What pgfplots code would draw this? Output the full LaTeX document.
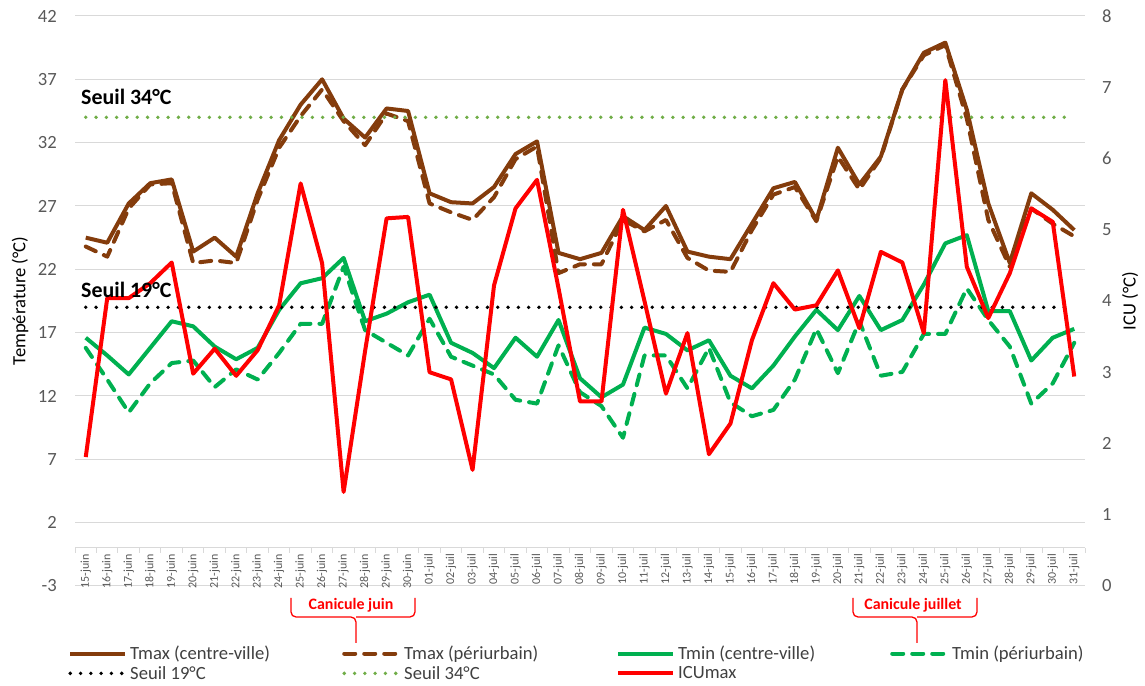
\documentclass[border=0pt]{standalone}
\usepackage{pgfplots}
\usepackage{pgfplotstable}
\pgfplotsset{compat=1.18}
\usepackage{fontspec}
\setmainfont{Carlito}
\definecolor{brn}{HTML}{843C0C}
\definecolor{grn}{HTML}{00B050}
\definecolor{lgrn}{HTML}{70AD47}
\definecolor{icured}{HTML}{FF0000}
\definecolor{gridgray}{HTML}{D9D9D9}
\definecolor{tickgray}{HTML}{595959}
\definecolor{leggray}{HTML}{404040}
\newcommand\fsA{\fontsize{18.7}{22}\selectfont}
\newcommand\fsX{\fontsize{12}{14}\selectfont}

\pgfplotstableread{
i  tmaxc tmaxp tminc tminp icu
0  24.5  23.8  16.6  15.8  1.81
1  24.1  23.0  15.2  13.3  4.04
2  27.2  26.8  13.7  10.7  4.04
3  28.8  28.7  15.8  13.0  4.25
4  29.1  28.8  17.9  14.6  4.54
5  23.4  22.5  17.5  14.8  2.98
6  24.5  22.7  15.9  12.7  3.33
7  23.0  22.5  14.9  14.1  2.95
8  28.0  27.5  15.8  13.3  3.31
9  32.2  31.6  18.8  15.4  3.94
10 35.0  34.1  20.9  17.7  5.65
11 37.0  36.2  21.3  17.7  4.53
12 33.9  33.7  22.9  22.2  1.32
13 32.4  31.8  17.9  17.2  3.30
14 34.7  34.3  18.5  16.2  5.16
15 34.5  33.7  19.4  15.2  5.18
16 28.0  27.2  20.0  18.1  3.00
17 27.3  26.5  16.2  15.1  2.90
18 27.2  25.9  15.4  14.4  1.63
19 28.5  27.7  14.2  13.7  4.22
20 31.1  30.7  16.6  11.7  5.30
21 32.1  31.7  15.1  11.4  5.70
22 23.3  21.7  18.0  16.0  4.18
23 22.8  22.4  13.4  12.3  2.59
24 23.3  22.4  11.9  11.2  2.59
25 26.2  25.9  12.9   8.7  5.28
26 25.1  25.0  17.4  15.2  4.00
27 27.0  25.9  16.9  15.2  2.70
28 23.4  22.9  15.6  12.6  3.55
29 23.0  21.9  16.4  15.8  1.85
30 22.8  21.8  13.6  11.5  2.28
31 25.6  25.1  12.6  10.4  3.45
32 28.4  27.9  14.4  10.9  4.25
33 28.9  28.5  16.7  13.3  3.88
34 25.9  25.8  18.8  17.3  3.94
35 31.6  30.9  17.2  13.8  4.43
36 28.7  28.3  19.9  17.9  3.62
37 30.9  30.8  17.2  13.6  4.69
38 36.2  36.2  18.0  13.9  4.54
39 39.1  38.9  20.8  16.9  3.55
40 39.9  39.7  24.05 16.9  7.10
41 34.6  33.9  24.7  20.5  4.48
42 27.2  25.9  18.7  18.0  3.76
43 22.5  22.2  18.7  15.9  4.39
44 28.0  26.8  14.8  11.4  5.30
45 26.7  25.6  16.6  13.0  5.11
46 25.1  24.6  17.3  16.2  2.94
}\data

\pgfplotsset{
  lw/.style={line width=4bp, line join=round},
  dashedS/.style={lw, line cap=round, dash pattern=on 11bp off 9bp},
  dottedS/.style={line width=3.8bp, line cap=round, dash pattern=on 0bp off 10.3bp},
  common/.style={
    at={(75bp,100bp)}, anchor=south west, scale only axis,
    width=1010bp, height=570bp,
    xmin=-0.5, xmax=46.5,
    clip=false,
    /pgf/number format/assume math mode=true,
  },
}

\begin{document}
\begin{tikzpicture}
\useasboundingbox (0,0) rectangle (1145bp,686bp);

\begin{axis}[common,
  ymin=-3, ymax=42, ytick={-3,2,...,42},
  axis x line*=middle, axis y line*=left,
  y axis line style={draw=none},
  x axis line style={-, draw=gridgray, line width=1bp},
  ytick style={draw=none},
  ymajorgrids, grid style={draw=gridgray, line width=1bp},
  xtick={0,1,...,46},
  xticklabels={15-juin,16-juin,17-juin,18-juin,19-juin,20-juin,21-juin,22-juin,23-juin,24-juin,25-juin,26-juin,27-juin,28-juin,29-juin,30-juin,01-juil,02-juil,03-juil,04-juil,05-juil,06-juil,07-juil,08-juil,09-juil,10-juil,11-juil,12-juil,13-juil,14-juil,15-juil,16-juil,17-juil,18-juil,19-juil,20-juil,21-juil,22-juil,23-juil,24-juil,25-juil,26-juil,27-juil,28-juil,29-juil,30-juil,31-juil},
  xtick style={draw=none},
  extra x ticks={-0.5,0.5,...,46.5},
  extra x tick labels={},
  extra x tick style={xtick style={draw=gridgray, line width=1bp}},
  major tick length=5bp, tick align=outside,
  xticklabel style={font=\fsX, text=tickgray, rotate=90, anchor=east, inner sep=1bp},
  yticklabel style={font=\fsA, text=tickgray, anchor=east, inner sep=0pt, xshift=-13bp},
  ylabel={Température (°C)},
  every axis y label/.style={at={(axis description cs:-0.0545,0.5)}, rotate=90, anchor=center, font=\fsA},
]
\addplot[brn, lw] table[x=i, y=tmaxc] {\data};
\addplot[brn, dashedS] table[x=i, y=tmaxp] {\data};
\addplot[grn, lw] table[x=i, y=tminc] {\data};
\addplot[grn, dashedS] table[x=i, y=tminp] {\data};
\addplot[black, dottedS] coordinates {(0,19) (46,19)};
\addplot[lgrn, dottedS] coordinates {(0,34) (46,34)};
\end{axis}

\begin{axis}[common,
  ymin=0, ymax=8, ytick={0,1,...,8},
  axis x line=none, axis y line*=right,
  y axis line style={draw=none},
  ytick style={draw=none},
  yticklabel style={font=\fsA, text=tickgray, anchor=west, inner sep=0pt, xshift=17bp},
  ylabel={ICU (°C)},
  every axis y label/.style={at={(axis description cs:1.0446,0.5)}, rotate=90, anchor=center, font=\fsA},
  legend columns=4,
  legend style={at={(axis description cs:-0.0069,-0.105)}, anchor=north west,
    draw=none, fill=none, inner sep=0pt, row sep=5bp,
    font=\fsA, text=leggray, nodes={inner sep=0pt, anchor=west}},
  legend image code/.code={\draw[#1] (0bp,0bp) -- (55bp,0bp);},
]
\addlegendimage{brn, lw}
\addlegendentry{\hspace{3bp}\makebox[212bp][l]{Tmax (centre-ville)}}
\addlegendimage{brn, dashedS}
\addlegendentry{\hspace{3bp}\makebox[212bp][l]{Tmax (périurbain)}}
\addlegendimage{grn, lw}
\addlegendentry{\hspace{3bp}\makebox[212bp][l]{Tmin (centre-ville)}}
\addlegendimage{grn, dashedS}
\addlegendentry{\hspace{3bp}\makebox[212bp][l]{Tmin (périurbain)}}
\addlegendimage{black, dottedS}
\addlegendentry{\hspace{3bp}\makebox[212bp][l]{Seuil 19°C}}
\addlegendimage{lgrn, dottedS}
\addlegendentry{\hspace{3bp}\makebox[212bp][l]{Seuil 34°C}}
\addplot[icured, lw] table[x=i, y=icu] {\data};
\addlegendentry{\hspace{3bp}\makebox[212bp][l]{ICUmax}}
\end{axis}

\begin{scope}[x=1bp, y=1bp]
\node[anchor=base west, inner sep=0pt, font=\fontsize{22}{26}\selectfont\bfseries] at (81,581) {Seuil 34°C};
\node[anchor=base west, inner sep=0pt, font=\fontsize{22}{26}\selectfont\bfseries] at (81,388) {Seuil 19°C};
\draw[icured, line width=1.3bp, rounded corners=5bp] (291,88) -- (291,69) -- (356,69) -- (356,43);
\draw[icured, line width=1.3bp, rounded corners=5bp] (415,88) -- (415,69) -- (356,69);
\node[icured, font=\fontsize{16}{19}\selectfont\bfseries] at (351,81) {Canicule juin};
\draw[icured, line width=1.3bp, rounded corners=5bp] (853,88) -- (853,69) -- (917,69) -- (917,43);
\draw[icured, line width=1.3bp, rounded corners=5bp] (977,88) -- (977,69) -- (917,69);
\node[icured, font=\fontsize{16}{19}\selectfont\bfseries] at (913,81) {Canicule juillet};
\end{scope}
\end{tikzpicture}
\end{document}
